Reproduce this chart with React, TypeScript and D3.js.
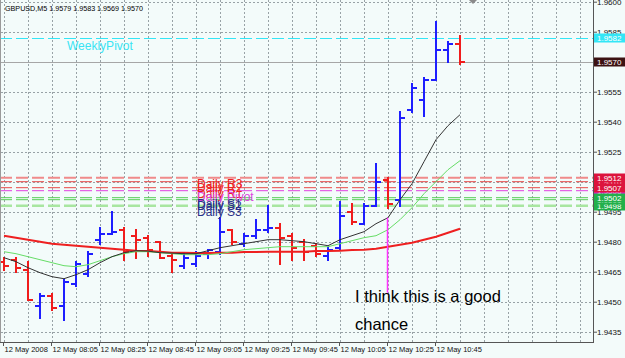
import * as d3 from 'd3';
import React, { useRef, useEffect } from 'react';

// GBPUSD M5, 12 May 2008
const barTimes = [
  '07:45', '07:50', '07:55', '08:00', '08:05', '08:10', '08:15', '08:20', '08:25', '08:30',
  '08:35', '08:40', '08:45', '08:50', '08:55', '09:00', '09:05', '09:10', '09:15', '09:20',
  '09:25', '09:30', '09:35', '09:40', '09:45', '09:50', '09:55', '10:00', '10:05', '10:10',
  '10:15', '10:20', '10:25', '10:30', '10:35', '10:40', '10:45', '10:50', '10:55',
];
const opens = [
  1.9470, 1.9471, 1.9466, 1.9448, 1.9453, 1.9448, 1.9459, 1.9464, 1.9481, 1.9484,
  1.9486, 1.9483, 1.9482, 1.9480, 1.9473, 1.9468, 1.9469, 1.9474, 1.9475, 1.9486,
  1.9479, 1.9483, 1.9486, 1.9487, 1.9483, 1.9480, 1.9478, 1.9473, 1.9477, 1.9495,
  1.9489, 1.9498, 1.9511, 1.9501, 1.9546, 1.9551, 1.9561, 1.9576, 1.9579,
];
const highs = [
  1.9472, 1.9472, 1.9470, 1.9454, 1.9454, 1.9461, 1.9470, 1.9475, 1.9487, 1.9495,
  1.9487, 1.9486, 1.9483, 1.9480, 1.9474, 1.9474, 1.9475, 1.9476, 1.9492, 1.9486,
  1.9484, 1.9491, 1.9498, 1.9489, 1.9484, 1.9481, 1.9479, 1.9477, 1.9500, 1.9499,
  1.9499, 1.9519, 1.9512, 1.9545, 1.9559, 1.9562, 1.9590, 1.9580, 1.9583,
];
const lows = [
  1.9466, 1.9465, 1.9451, 1.9442, 1.9446, 1.9441, 1.9458, 1.9463, 1.9479, 1.9484,
  1.9471, 1.9472, 1.9473, 1.9472, 1.9465, 1.9467, 1.9468, 1.9472, 1.9474, 1.9479,
  1.9478, 1.9482, 1.9485, 1.9469, 1.9471, 1.9471, 1.9473, 1.9471, 1.9476, 1.9489,
  1.9489, 1.9498, 1.9497, 1.9498, 1.9545, 1.9543, 1.9561, 1.9570, 1.9569,
];
const closes = [
  1.9468, 1.9467, 1.9451, 1.9453, 1.9447, 1.9460, 1.9469, 1.9474, 1.9484, 1.9485,
  1.9475, 1.9481, 1.9476, 1.9472, 1.9471, 1.9472, 1.9473, 1.9476, 1.9485, 1.9480,
  1.9483, 1.9486, 1.9487, 1.9482, 1.9477, 1.9475, 1.9474, 1.9476, 1.9493, 1.9490,
  1.9498, 1.9510, 1.9499, 1.9542, 1.9557, 1.9561, 1.9576, 1.9579, 1.9570,
];

// moving averages
const maSlow = [
  1.94830, 1.94820, 1.94810, 1.94800, 1.94790, 1.94785, 1.94780, 1.94775, 1.94770, 1.94765,
  1.94760, 1.94755, 1.94753, 1.94750, 1.94745, 1.94745, 1.94743, 1.94743, 1.94745, 1.94745,
  1.94748, 1.94748, 1.94750, 1.94750, 1.94750, 1.94750, 1.94753, 1.94753, 1.94755, 1.94758,
  1.94760, 1.94765, 1.94775, 1.94785, 1.94795, 1.94810, 1.94825, 1.94845, 1.94865,
];
const maFast = [
  1.94720, 1.94700, 1.94670, 1.94645, 1.94625, 1.94615, 1.94635, 1.94660, 1.94695, 1.94725,
  1.94745, 1.94755, 1.94753, 1.94745, 1.94743, 1.94740, 1.94740, 1.94755, 1.94770, 1.94780,
  1.94790, 1.94800, 1.94810, 1.94810, 1.94805, 1.94800, 1.94790, 1.94780, 1.94810, 1.94830,
  1.94850, 1.94890, 1.94920, 1.95010, 1.95090, 1.95200, 1.95310, 1.95380, 1.95435,
];
const maMid = [
  1.94750, 1.94740, 1.94725, 1.94710, 1.94695, 1.94680, 1.94675, 1.94685, 1.94705, 1.94725,
  1.94740, 1.94750, 1.94750, 1.94745, 1.94740, 1.94735, 1.94735, 1.94735, 1.94740, 1.94750,
  1.94760, 1.94765, 1.94770, 1.94775, 1.94775, 1.94775, 1.94775, 1.94775, 1.94790, 1.94805,
  1.94820, 1.94830, 1.94860, 1.94910, 1.94970, 1.95040, 1.95100, 1.95160, 1.95205,
];

const priceTicks = [1.9600, 1.9585, 1.9570, 1.9555, 1.9540, 1.9525, 1.9510, 1.9495, 1.9480, 1.9465, 1.9450, 1.9435];
const timeTickBars = [0, 4, 8, 12, 16, 20, 24, 28, 32, 36];
const timeTickLabels = [
  '12 May 2008', '12 May 08:05', '12 May 08:25', '12 May 08:45', '12 May 09:05',
  '12 May 09:25', '12 May 09:45', '12 May 10:05', '12 May 10:25', '12 May 10:45',
];

const pivotNames = ['Daily R3', 'Daily R2', 'Daily R1', 'Daily Pivot', 'Daily S1', 'Daily S2', 'Daily S3'];
const pivotPrices = [1.9512, 1.9510, 1.9507, 1.95055, 1.9502, 1.9501, 1.9498];
const weeklyPivot = 1.9582;
const noteLines = ['I think this is a good', 'chance'];

const W = 625;
const H = 358;
const FONT = '"Liberation Sans", Arial, sans-serif';

const App = () => {
  const svgRef = useRef(null);

  useEffect(() => {
    draw();
  }, []);

  const draw = () => {
    const svg = d3.select(svgRef.current);
    svg.selectAll('*').remove();

    const plotRight = 593;
    const plotBottom = 342;
    const x = d3.scaleLinear().domain([0, 49]).range([4, 592]);
    const y = d3.scaleLinear().domain([1.9435, 1.96]).range([331.7, 1.7]);
    const py = (p) => Math.round(y(p)) + 0.5;

    svg.append('rect').attr('width', W).attr('height', H).attr('fill', '#f3fbfa');

    svg.append('defs').append('clipPath').attr('id', 'plot')
      .append('rect').attr('x', 0).attr('y', 0).attr('width', plotRight).attr('height', plotBottom);
    const plot = svg.append('g').attr('clip-path', 'url(#plot)');

    // grid
    plot.selectAll('.hgrid').data(priceTicks).enter().append('line')
      .attr('x1', 1).attr('x2', plotRight)
      .attr('y1', (d) => py(d)).attr('y2', (d) => py(d))
      .attr('stroke', '#98a2a6').attr('stroke-dasharray', '2,2');
    plot.selectAll('.vgrid').data(d3.range(0, 49, 2)).enter().append('line')
      .attr('x1', (d) => x(d) + 0.5).attr('x2', (d) => x(d) + 0.5)
      .attr('y1', 0).attr('y2', plotBottom)
      .attr('stroke', '#98a2a6').attr('stroke-dasharray', '2,2');

    // pivot levels
    const lineColors = ['#f08a8a', '#e84848', '#e84848', '#e040e0', '#55cc55', '#55cc55', '#a8e6a0'];
    const lineWidths = [2, 1, 1, 1, 1, 1, 2.5];
    plot.selectAll('.pivot').data(pivotPrices).enter().append('line')
      .attr('x1', 0).attr('x2', plotRight)
      .attr('y1', (d) => y(d)).attr('y2', (d) => y(d))
      .attr('stroke', (d, i) => lineColors[i])
      .attr('stroke-width', (d, i) => lineWidths[i])
      .attr('stroke-dasharray', '12,4');
    plot.append('line')
      .attr('x1', 0).attr('x2', plotRight)
      .attr('y1', py(weeklyPivot)).attr('y2', py(weeklyPivot))
      .attr('stroke', '#33e6f6').attr('stroke-width', 1.2).attr('stroke-dasharray', '12,4');
    const bid = closes[closes.length - 1];
    plot.append('line')
      .attr('x1', 0).attr('x2', plotRight)
      .attr('y1', py(bid)).attr('y2', py(bid))
      .attr('stroke', '#a6a6a6');

    // OHLC bars
    const bars = barTimes.map((t, i) => ({ t, i, o: opens[i], h: highs[i], l: lows[i], c: closes[i] }));
    const barColor = (d) => (d.c >= d.o ? '#1e1eff' : '#f01c1c');
    const bg = plot.append('g').attr('shape-rendering', 'crispEdges').attr('stroke-width', 2);
    bg.selectAll('.hl').data(bars).enter().append('line')
      .attr('x1', (d) => x(d.i)).attr('x2', (d) => x(d.i))
      .attr('y1', (d) => Math.round(y(d.h)) - 1).attr('y2', (d) => Math.round(y(d.l)) + 1)
      .attr('stroke', barColor);
    bg.selectAll('.op').data(bars).enter().append('line')
      .attr('x1', (d) => x(d.i) - 5).attr('x2', (d) => x(d.i))
      .attr('y1', (d) => Math.round(y(d.o))).attr('y2', (d) => Math.round(y(d.o)))
      .attr('stroke', barColor);
    bg.selectAll('.cl').data(bars).enter().append('line')
      .attr('x1', (d) => x(d.i)).attr('x2', (d) => x(d.i) + 5)
      .attr('y1', (d) => Math.round(y(d.c))).attr('y2', (d) => Math.round(y(d.c)))
      .attr('stroke', barColor);

    // moving averages
    const maLine = d3.line().x((d, i) => x(i)).y((d) => y(d));
    plot.append('path').attr('d', maLine(maSlow)).attr('fill', 'none')
      .attr('stroke', '#ee2020').attr('stroke-width', 2);
    plot.append('path').attr('d', maLine(maMid)).attr('fill', 'none')
      .attr('stroke', '#66dd66').attr('stroke-width', 1);
    plot.append('path').attr('d', maLine(maFast)).attr('fill', 'none')
      .attr('stroke', '#333333').attr('stroke-width', 1);

    // annotation line
    plot.append('line')
      .attr('x1', x(32) - 0.5).attr('x2', x(32) - 0.5)
      .attr('y1', y(maFast[32])).attr('y2', y(1.94545))
      .attr('stroke', '#ff33ff').attr('stroke-width', 1.5);

    // texts on chart
    plot.append('text')
      .attr('x', x(5) + 3).attr('y', y(weeklyPivot) + 12)
      .attr('font-family', FONT).attr('font-size', 12).attr('fill', '#38e4f4')
      .text('WeeklyPivot');
    const textColors = ['#ee2222', '#ee2222', '#ee2222', '#dd44dd', '#2a3088', '#2a3088', '#2a3088'];
    plot.selectAll('.plabel').data(pivotPrices).enter().append('text')
      .attr('x', x(16) + 1).attr('y', (d) => y(d) + 10)
      .attr('font-family', FONT).attr('font-size', 12)
      .attr('fill', (d, i) => textColors[i])
      .text((d, i) => pivotNames[i]);
    plot.selectAll('.note').data(noteLines).enter().append('text')
      .attr('x', x(29) + 3).attr('y', (d, i) => y(1.9450) + i * 28)
      .attr('font-family', FONT).attr('font-size', 16.5).attr('fill', '#000')
      .text((d) => d);

    // header
    svg.append('text').attr('x', 5).attr('y', 11)
      .attr('font-family', FONT).attr('font-size', 8).attr('fill', '#000')
      .attr('textLength', 138).attr('lengthAdjust', 'spacingAndGlyphs')
      .text(`GBPUSD,M5  ${opens[38].toFixed(4)} ${highs[38].toFixed(4)} ${lows[38].toFixed(4)} ${closes[38].toFixed(4)}`);

    // frame
    svg.append('line').attr('x1', 0.5).attr('x2', 0.5).attr('y1', 0).attr('y2', plotBottom)
      .attr('stroke', '#9a9a9a');
    svg.append('line').attr('x1', plotRight + 0.5).attr('x2', plotRight + 0.5).attr('y1', 0).attr('y2', plotBottom + 1)
      .attr('stroke', '#555');
    svg.append('line').attr('x1', 0).attr('x2', plotRight + 1).attr('y1', plotBottom + 0.5).attr('y2', plotBottom + 0.5)
      .attr('stroke', '#555');

    // chart shift marker
    const sx = x(39) + 1;
    svg.append('path').attr('d', `M${sx - 4},0L${sx + 4},0L${sx},4Z`).attr('fill', '#8a8a8a');

    // price axis
    const yAxis = svg.append('g')
      .attr('transform', `translate(${plotRight},0)`)
      .call(d3.axisRight(y).tickValues(priceTicks).tickSize(4).tickPadding(0).tickFormat(d3.format('.4f')));
    yAxis.select('.domain').remove();
    yAxis.selectAll('line').attr('stroke', '#555');
    yAxis.selectAll('text').attr('font-family', FONT).attr('font-size', 8).attr('fill', '#111');

    // time axis
    const xAxis = svg.append('g')
      .attr('transform', `translate(-1,${plotBottom})`)
      .call(d3.axisBottom(x).tickValues(timeTickBars).tickSize(4).tickPadding(1)
        .tickFormat((d, i) => timeTickLabels[i]));
    xAxis.select('.domain').remove();
    xAxis.selectAll('line').attr('stroke', '#555');
    xAxis.selectAll('text').attr('font-family', FONT).attr('font-size', 7.5).attr('fill', '#111')
      .attr('text-anchor', 'start').attr('x', 1);

    // price boxes on the axis
    const boxColors = ['#dc143c', '#dc143c', '#dc143c', '#e020e0', '#22b04a', '#22b04a', '#22b04a'];
    const boxOrder = [3, 1, 2, 0, 6, 5, 4];
    const boxes = [
      ...boxOrder.map((i) => ({ p: pivotPrices[i], c: boxColors[i], t: '#fff' })),
      { p: weeklyPivot, c: '#33e6f6', t: '#fff' },
      { p: bid, c: '#3c1212', t: '#fff' },
    ];
    const bx = svg.selectAll('.box').data(boxes).enter().append('g');
    bx.append('rect')
      .attr('x', plotRight + 1).attr('y', (d) => Math.round(y(d.p)) - 4.5)
      .attr('width', W - plotRight).attr('height', 9)
      .attr('fill', (d) => d.c);
    bx.append('text')
      .attr('x', plotRight + 4).attr('y', (d) => Math.round(y(d.p)) + 3)
      .attr('font-family', FONT).attr('font-size', 8).attr('fill', (d) => d.t)
      .text((d) => d.p.toFixed(4));
  };

  return (
    <svg ref={svgRef} width={W} height={H} style={{ position: 'absolute', left: 0, top: 0 }}>
    </svg>
  );
};

export default App;
